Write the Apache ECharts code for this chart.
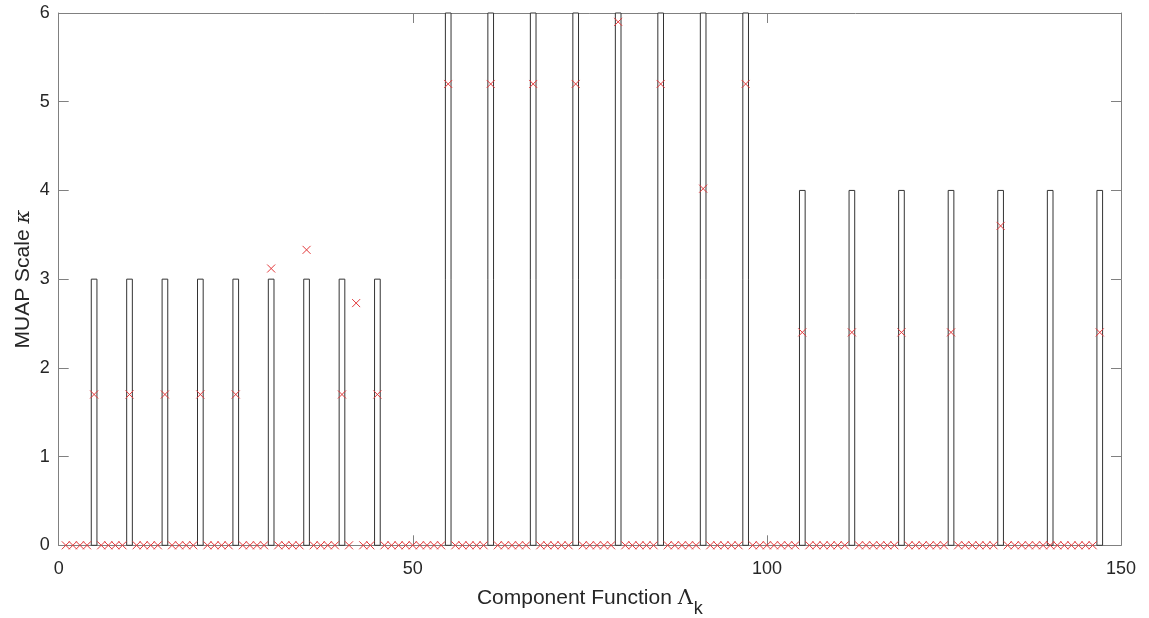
<!DOCTYPE html>
<html>
<head>
<meta charset="utf-8">
<script src="https://cdn.jsdelivr.net/npm/echarts@6/dist/echarts.min.js"></script>
<style>
html,body{margin:0;padding:0;background:#fff;}
#chart{width:1149px;height:618px;}
</style>
</head>
<body>
<div id="chart"></div>
<script>
// Bar (component function) positions and heights
var barX = [5, 10, 15, 20, 25, 30, 35, 40, 45,
            55, 61, 67, 73, 79, 85, 91, 97,
            105, 112, 119, 126, 133, 140, 147];
var barH = [3, 3, 3, 3, 3, 3, 3, 3, 3,
            6, 6, 6, 6, 6, 6, 6, 6,
            4, 4, 4, 4, 4, 4, 4];

// Estimated MUAP scale (red x), one value per component 1..147
var estValues = [
  0, 0, 0, 0, 1.7, 0, 0, 0, 0, 1.7,
  0, 0, 0, 0, 1.7, 0, 0, 0, 0, 1.7,
  0, 0, 0, 0, 1.7, 0, 0, 0, 0, 3.12,
  0, 0, 0, 0, 3.33, 0, 0, 0, 0, 1.7,
  0, 2.73, 0, 0, 1.7, 0, 0, 0, 0, 0,
  0, 0, 0, 0, 5.2, 0, 0, 0, 0, 0,
  5.2, 0, 0, 0, 0, 0, 5.2, 0, 0, 0,
  0, 0, 5.2, 0, 0, 0, 0, 0, 5.9, 0,
  0, 0, 0, 0, 5.2, 0, 0, 0, 0, 0,
  4.02, 0, 0, 0, 0, 0, 5.2, 0, 0, 0,
  0, 0, 0, 0, 2.4, 0, 0, 0, 0, 0,
  0, 2.4, 0, 0, 0, 0, 0, 0, 2.4, 0,
  0, 0, 0, 0, 0, 2.4, 0, 0, 0, 0,
  0, 0, 3.6, 0, 0, 0, 0, 0, 0, 0,
  0, 0, 0, 0, 0, 0, 2.4
];

var xTicks = { min: 0, max: 150, interval: 50 };
var yTicks = { min: 0, max: 6, interval: 1 };

var barData = barX.map(function (x, i) { return [x, barH[i]]; });
var estData = estValues.map(function (v, i) { return [i + 1, v]; });

var axisGray = '#808080';
var textColor = '#262626';
var font = 'Liberation Sans, Arial, sans-serif';

var chart = echarts.init(document.getElementById('chart'), null, { renderer: 'canvas' });

function axisCommon(extra) {
  var base = {
    type: 'value',
    axisLine: { show: true, onZero: false, lineStyle: { color: axisGray, width: 1 } },
    axisTick: { show: true, inside: true, length: 10, lineStyle: { color: axisGray, width: 1 } },
    splitLine: { show: false },
    axisLabel: { color: textColor, fontSize: 18, fontFamily: font }
  };
  for (var k in extra) base[k] = extra[k];
  return base;
}

chart.setOption({
  animation: false,
  backgroundColor: '#fff',
  grid: { left: 58.7, right: 28, top: 13, bottom: 72.7, containLabel: false, outerBoundsMode: 'none' },
  xAxis: [
    axisCommon({
      min: xTicks.min, max: xTicks.max, interval: xTicks.interval, position: 'bottom',
      axisLabel: { color: textColor, fontSize: 18, fontFamily: font, margin: 15 },
      name: '{a|Component Function }{b|Λ}{c|k}',
      nameLocation: 'middle', nameGap: 33,
      nameTextStyle: {
        rich: {
          a: { fontSize: 21, fontFamily: font, color: textColor },
          b: { fontSize: 21, fontFamily: 'DejaVu Serif, serif', color: textColor },
          c: { fontSize: 18, fontFamily: font, color: textColor, padding: [22, 0, 0, 1] }
        }
      }
    }),
    axisCommon({
      min: xTicks.min, max: xTicks.max, interval: xTicks.interval, position: 'top',
      axisLabel: { show: false }
    })
  ],
  yAxis: [
    axisCommon({
      min: yTicks.min, max: yTicks.max, interval: yTicks.interval, position: 'left',
      axisLabel: { color: textColor, fontSize: 18, fontFamily: font, margin: 9 },
      name: '{a|MUAP Scale }{b|κ}',
      nameLocation: 'middle', nameGap: 25, nameMoveOverlap: false,
      nameTextStyle: {
        rich: {
          a: { fontSize: 21, fontFamily: font, color: textColor },
          b: { fontSize: 21, fontFamily: 'DejaVu Serif, serif', fontStyle: 'italic', color: textColor }
        }
      }
    }),
    axisCommon({
      min: yTicks.min, max: yTicks.max, interval: yTicks.interval, position: 'right',
      axisLabel: { show: false }
    })
  ],
  series: [
    {
      type: 'custom',
      xAxisIndex: 0, yAxisIndex: 0,
      data: barData,
      z: 2,
      renderItem: function (params, api) {
        var x = api.value(0), h = api.value(1);
        var p0 = api.coord([x - 0.4, h]);
        var p1 = api.coord([x + 0.4, 0]);
        return {
          type: 'rect',
          shape: { x: p0[0], y: p0[1], width: p1[0] - p0[0], height: p1[1] - p0[1] },
          style: { fill: '#ffffff', stroke: '#333333', lineWidth: 1 }
        };
      }
    },
    {
      type: 'custom',
      xAxisIndex: 0, yAxisIndex: 0,
      data: estData,
      z: 3,
      renderItem: function (params, api) {
        var c = api.coord([api.value(0), api.value(1)]);
        var r = 4;
        var st = { stroke: '#e3393b', lineWidth: 1 };
        return {
          type: 'group',
          children: [
            { type: 'line', shape: { x1: c[0] - r, y1: c[1] - r, x2: c[0] + r, y2: c[1] + r }, style: st },
            { type: 'line', shape: { x1: c[0] - r, y1: c[1] + r, x2: c[0] + r, y2: c[1] - r }, style: st }
          ]
        };
      }
    }
  ]
});
</script>
</body>
</html>
